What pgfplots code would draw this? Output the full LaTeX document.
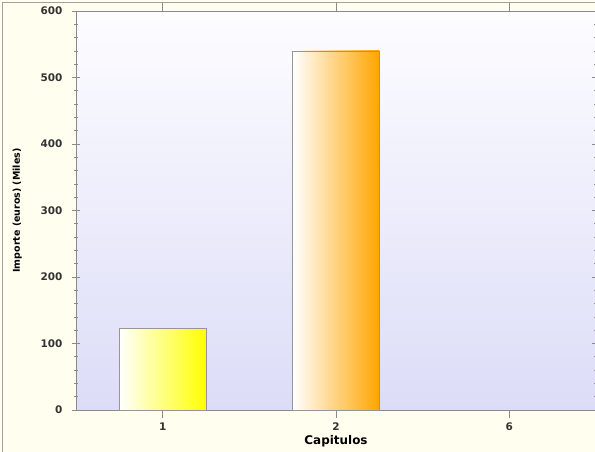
\documentclass[border=0pt]{standalone}
\usepackage{pgfplots}
\pgfplotsset{compat=1.18}
\usepackage{fontspec}
\setmainfont{DejaVu Sans}
\definecolor{outerbg}{HTML}{FFFEEF}
\definecolor{plotlight}{HTML}{FDFDFF}
\definecolor{plotdark}{HTML}{DCDCF8}
\definecolor{axgray}{HTML}{8A8A8A}
\definecolor{txt}{HTML}{333333}
\definecolor{barorange}{HTML}{FFA500}
\begin{document}
\begin{tikzpicture}[x=1bp,y=1bp]
\useasboundingbox (0,0) rectangle (595,452);
\fill[outerbg] (0,0) rectangle (595,452);
\draw[axgray!80, line width=1bp] (2.5,-2) -- (2.5,449.5) -- (600,449.5);
\begin{axis}[
  at={(76bp,42bp)}, anchor=south west,
  width=520bp, height=399bp, scale only axis,
  xmin=-0.5, xmax=2.5, ymin=0, ymax=600,
  xtick={0,1,2}, xticklabels={1,2,6},
  ytick={0,100,...,600},
  minor y tick num=4,
  tick align=center,
  major tick length=8bp, minor tick length=4bp,
  axis line style={axgray, line width=0.8bp},
  every tick/.style={axgray, line width=0.6bp},
  ticklabel style={font=\fontsize{10.5}{12}\selectfont\bfseries, text=txt},
  /pgf/number format/assume math mode=true,
  xticklabel style={yshift=-1bp},
  yticklabel style={xshift=-6bp},
  xlabel={Capitulos}, ylabel={Importe (euros) (Miles)},
  xlabel style={font=\fontsize{12}{14}\selectfont\bfseries, text=black, yshift=2bp},
  ylabel style={font=\fontsize{9.5}{11}\selectfont\bfseries, text=black, yshift=12bp},
  axis background/.style={shade, shading angle=25, top color=plotlight, bottom color=plotdark},
  ybar, bar width=0.5, bar shift=0pt,
  clip=false,
]
\addplot[draw=axgray!90, line width=0.6bp, left color=white, right color=yellow] coordinates {(0,123)};
\addplot[draw=axgray!90, line width=0.6bp, left color=white, right color=barorange] coordinates {(1,540)};
\end{axis}
\end{tikzpicture}
\end{document}
